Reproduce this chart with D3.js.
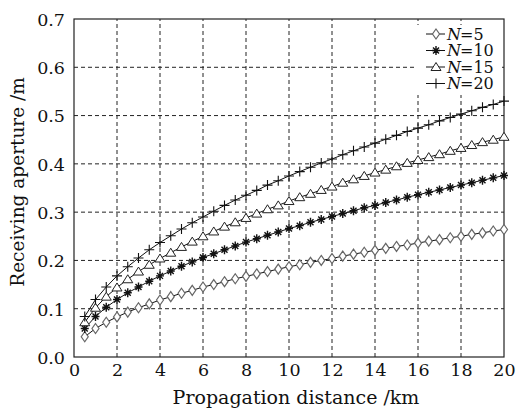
<!DOCTYPE html>
<html lang="en">
<head>
    <meta charset="UTF-8">
    <title>Receiving aperture vs propagation distance</title>
    <script src="https://d3js.org/d3.v7.min.js"></script>
    <style>
        body { margin: 0; background: #fff; }
        text { font-family: "DejaVu Serif", "Liberation Serif", serif; fill: #111; }
    </style>
</head>
<body>
    <div id="chart"></div>

    <script>
        // Distance in km (marker every 0.5 km)
        var distance = [0.5, 1, 1.5, 2, 2.5, 3, 3.5, 4, 4.5, 5, 5.5, 6, 6.5, 7, 7.5, 8, 8.5, 9, 9.5, 10,
                        10.5, 11, 11.5, 12, 12.5, 13, 13.5, 14, 14.5, 15, 15.5, 16, 16.5, 17, 17.5, 18, 18.5, 19, 19.5, 20];

        // Receiving aperture in m
        var n5 = [0.042, 0.059, 0.072, 0.083, 0.093, 0.102, 0.110, 0.118, 0.125, 0.132, 0.138, 0.145, 0.150, 0.156, 0.162, 0.167, 0.172, 0.177, 0.182, 0.187,
                  0.191, 0.196, 0.200, 0.204, 0.209, 0.213, 0.217, 0.221, 0.225, 0.229, 0.232, 0.236, 0.240, 0.243, 0.247, 0.250, 0.254, 0.257, 0.261, 0.264];
        var n10 = [0.059, 0.084, 0.103, 0.119, 0.133, 0.145, 0.157, 0.168, 0.178, 0.188, 0.197, 0.206, 0.214, 0.222, 0.230, 0.238, 0.245, 0.252, 0.259, 0.266,
                   0.272, 0.279, 0.285, 0.291, 0.297, 0.303, 0.309, 0.314, 0.320, 0.325, 0.331, 0.336, 0.341, 0.346, 0.351, 0.356, 0.361, 0.366, 0.371, 0.376];
        var n15 = [0.072, 0.102, 0.125, 0.144, 0.161, 0.177, 0.191, 0.204, 0.216, 0.228, 0.239, 0.250, 0.260, 0.270, 0.279, 0.288, 0.297, 0.306, 0.314, 0.323,
                   0.331, 0.338, 0.346, 0.353, 0.361, 0.368, 0.375, 0.382, 0.388, 0.395, 0.402, 0.408, 0.414, 0.420, 0.427, 0.433, 0.439, 0.445, 0.450, 0.456];
        var n20 = [0.084, 0.119, 0.145, 0.168, 0.187, 0.205, 0.222, 0.237, 0.251, 0.265, 0.278, 0.290, 0.302, 0.314, 0.325, 0.335, 0.345, 0.356, 0.365, 0.375,
                   0.384, 0.393, 0.402, 0.410, 0.419, 0.427, 0.435, 0.443, 0.451, 0.459, 0.467, 0.474, 0.481, 0.489, 0.496, 0.503, 0.510, 0.517, 0.523, 0.530];

        var seriesNames = ["5", "10", "15", "20"];
        var xTicks = [0, 2, 4, 6, 8, 10, 12, 14, 16, 18, 20];
        var yTicks = [0, 0.1, 0.2, 0.3, 0.4, 0.5, 0.6, 0.7];

        var series = [
            { name: seriesNames[0], values: n5, marker: "diamond", color: "#666" },
            { name: seriesNames[1], values: n10, marker: "star", color: "#111" },
            { name: seriesNames[2], values: n15, marker: "triangle", color: "#222" },
            { name: seriesNames[3], values: n20, marker: "plus", color: "#111" }
        ];

        var width = 520, height = 410;
        var margin = { left: 74, right: 16, top: 19, bottom: 53 };

        var svg = d3.select("#chart")
            .append("svg")
            .attr("width", width)
            .attr("height", height);

        var x = d3.scaleLinear().domain([0, 20]).range([margin.left, width - margin.right]);
        var y = d3.scaleLinear().domain([0, 0.7]).range([height - margin.bottom, margin.top]);

        // dashed grid
        svg.append("g")
            .selectAll("line")
            .data(xTicks.slice(1, -1))
            .enter()
            .append("line")
            .attr("x1", function(d) { return x(d); })
            .attr("x2", function(d) { return x(d); })
            .attr("y1", y(0))
            .attr("y2", y(0.7))
            .attr("stroke", "#222")
            .attr("stroke-width", 1)
            .attr("stroke-dasharray", "4,3");

        svg.append("g")
            .selectAll("line")
            .data(yTicks.slice(1, -1))
            .enter()
            .append("line")
            .attr("x1", x(0))
            .attr("x2", x(20))
            .attr("y1", function(d) { return y(d); })
            .attr("y2", function(d) { return y(d); })
            .attr("stroke", "#222")
            .attr("stroke-width", 1)
            .attr("stroke-dasharray", "4,3");

        // axes
        var xAxis = svg.append("g")
            .attr("transform", "translate(0," + y(0) + ")")
            .call(d3.axisBottom(x).tickValues(xTicks).tickSize(0).tickPadding(5).tickFormat(d3.format("d")));
        var yAxis = svg.append("g")
            .attr("transform", "translate(" + x(0) + ",0)")
            .call(d3.axisLeft(y).tickValues(yTicks).tickSize(0).tickPadding(9).tickFormat(d3.format(".1f")));
        [xAxis, yAxis].forEach(function(a) {
            a.select(".domain").remove();
            a.selectAll("text").style("font-size", "17.5px").attr("fill", "#111");
        });
        xAxis.selectAll("text").attr("dy", "0.8em");
        yAxis.selectAll("text").attr("dy", "0.36em");

        // frame
        svg.append("rect")
            .attr("x", x(0))
            .attr("y", y(0.7))
            .attr("width", x(20) - x(0))
            .attr("height", y(0) - y(0.7))
            .attr("fill", "none")
            .attr("stroke", "#222")
            .attr("stroke-width", 1.2);

        // axis titles
        svg.append("text")
            .attr("x", 296)
            .attr("y", 404)
            .attr("text-anchor", "middle")
            .style("font-size", "19px")
            .text("Propagation distance /km");

        svg.append("text")
            .attr("transform", "translate(24,182) rotate(-90)")
            .attr("text-anchor", "middle")
            .style("font-size", "18.5px")
            .text("Receiving aperture /m");

        // marker drawing
        function drawMarker(g, type, color) {
            if (type === "diamond") {
                g.append("path").attr("d", "M0,-5L3.5,0L0,5L-3.5,0Z")
                    .attr("fill", "#fff").attr("stroke", color).attr("stroke-width", 1.2);
            } else if (type === "triangle") {
                g.append("path").attr("d", "M0,-4.5L5,3.5L-5,3.5Z")
                    .attr("fill", "#fff").attr("stroke", color).attr("stroke-width", 1);
            } else if (type === "plus") {
                g.append("path").attr("d", "M-5,0H5M0,-5V5")
                    .attr("fill", "none").attr("stroke", color).attr("stroke-width", 1.1);
            } else if (type === "star") {
                g.append("path").attr("d", "M-4,0H4M0,-4.5V4.5M-3,-3L3,3M-3,3L3,-3")
                    .attr("fill", "none").attr("stroke", color).attr("stroke-width", 1.4);
            }
        }

        var line = d3.line()
            .x(function(d, i) { return x(distance[i]); })
            .y(function(d) { return y(d); });

        series.forEach(function(s) {
            svg.append("path")
                .datum(s.values)
                .attr("d", line)
                .attr("fill", "none")
                .attr("stroke", "#111")
                .attr("stroke-width", 1);

            svg.append("g")
                .selectAll("g")
                .data(s.values)
                .enter()
                .append("g")
                .attr("transform", function(d, i) { return "translate(" + x(distance[i]) + "," + y(d) + ")"; })
                .each(function() { drawMarker(d3.select(this), s.marker, s.color); });
        });

        // legend
        var legend = svg.append("g").attr("transform", "translate(417,25)");
        legend.append("rect")
            .attr("x", 0).attr("y", 0)
            .attr("width", 85).attr("height", 70)
            .attr("fill", "#fff");

        var rows = legend.selectAll("g.row")
            .data(series)
            .enter()
            .append("g")
            .attr("class", "row")
            .attr("transform", function(d, i) { return "translate(0," + (9 + i * 16.5) + ")"; });

        rows.append("line")
            .attr("x1", 9).attr("x2", 28)
            .attr("stroke", "#111").attr("stroke-width", 1);
        rows.append("g")
            .attr("transform", "translate(19,0)")
            .each(function(d) { drawMarker(d3.select(this), d.marker, d.color); });

        rows.append("text")
            .attr("x", 30)
            .attr("dy", "0.36em")
            .style("font-size", "16px")
            .style("font-style", "italic")
            .text("N");
        rows.append("text")
            .attr("x", 43)
            .attr("dy", "0.36em")
            .style("font-size", "16px")
            .text(function(d) { return "=" + d.name; });
    </script>
</body>
</html>
